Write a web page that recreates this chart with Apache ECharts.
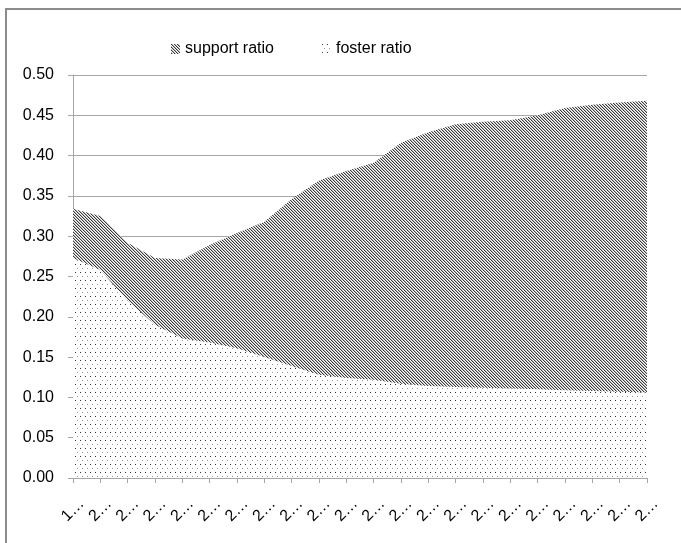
<!DOCTYPE html>
<html>
<head>
<meta charset="utf-8">
<script src="https://cdn.jsdelivr.net/npm/echarts@6/dist/echarts.min.js"></script>
<style>
html, body { margin: 0; padding: 0; background: #fff; }
#main { width: 681px; height: 543px; }
</style>
</head>
<body>
<div id="main"></div>
<script>
// x labels are shown truncated in the original chart
var xLabels = ['1…', '2…', '2…', '2…', '2…', '2…', '2…', '2…', '2…', '2…', '2…',
               '2…', '2…', '2…', '2…', '2…', '2…', '2…', '2…', '2…', '2…', '2…'];
var supportRatio = [0.334, 0.325, 0.292, 0.273, 0.271, 0.289, 0.304, 0.318, 0.346, 0.369, 0.381,
                    0.391, 0.416, 0.429, 0.439, 0.442, 0.444, 0.450, 0.459, 0.463, 0.466, 0.468];
var fosterRatio = [0.273, 0.258, 0.220, 0.190, 0.173, 0.168, 0.161, 0.150, 0.139, 0.128, 0.124,
                   0.122, 0.117, 0.114, 0.113, 0.112, 0.111, 0.110, 0.109, 0.108, 0.107, 0.106];
var seriesNames = ['support ratio', 'foster ratio'];

var FONT = 'Liberation Sans';

// diagonal hatch tile (\\\)
function hatchTile() {
    var c = document.createElement('canvas');
    c.width = 3; c.height = 3;
    var ctx = c.getContext('2d');
    var img = ctx.createImageData(3, 3);
    for (var y = 0; y < 3; y++) {
        for (var x = 0; x < 3; x++) {
            var k = ((x - y) % 3 + 3) % 3;
            var v = k === 0 ? 60 : (k === 1 ? 185 : 255);
            var p = (y * 3 + x) * 4;
            img.data[p] = img.data[p + 1] = img.data[p + 2] = v;
            img.data[p + 3] = 255;
        }
    }
    ctx.putImageData(img, 0, 0);
    return c;
}

// sparse dot tile
function dotTile() {
    var w = 10, h = 8;
    var c = document.createElement('canvas');
    c.width = w; c.height = h;
    var ctx = c.getContext('2d');
    ctx.fillStyle = '#fff';
    ctx.fillRect(0, 0, w, h);
    ctx.fillStyle = '#333';
    ctx.fillRect(0, 0, 1, 1);
    ctx.fillRect(5, 0, 1, 1);
    ctx.fillStyle = '#999';
    ctx.fillRect(2, 4, 1, 1);
    ctx.fillRect(7, 4, 1, 1);
    return c;
}

var hatch = { image: hatchTile(), repeat: 'repeat' };
var dots = { image: dotTile(), repeat: 'repeat' };

var chart = echarts.init(document.getElementById('main'));
chart.setOption({
    animation: false,
    backgroundColor: '#fff',
    textStyle: { fontFamily: FONT },
    graphic: [{
        type: 'rect',
        shape: { x: 6, y: 9, width: 800, height: 800 },
        style: { fill: 'none', stroke: '#8c8c8c', lineWidth: 2 },
        silent: true
    }],
    legend: {
        left: 166,
        top: 36,
        icon: 'rect',
        itemWidth: 9,
        itemHeight: 10,
        itemGap: 48,
        itemStyle: { borderWidth: 0 },
        textStyle: { fontSize: 16, color: '#000', fontFamily: FONT },
        data: [
            { name: seriesNames[0], itemStyle: { color: hatch } },
            { name: seriesNames[1], itemStyle: { color: dots } }
        ]
    },
    grid: { left: 73, right: 34, top: 75, bottom: 65, outerBoundsMode: 'none' },
    xAxis: {
        type: 'category',
        boundaryGap: false,
        data: xLabels,
        axisLine: { lineStyle: { color: '#a6a6a6', width: 1 } },
        axisTick: { show: true, length: 5, interval: 0, lineStyle: { color: '#a6a6a6' } },
        axisLabel: {
            interval: 0,
            rotate: 45,
            align: 'center',
            verticalAlign: 'middle',
            margin: 32,
            fontSize: 16,
            color: '#000',
            fontFamily: FONT
        },
        splitLine: { show: false }
    },
    yAxis: {
        type: 'value',
        min: 0,
        max: 0.5,
        interval: 0.05,
        axisLine: { show: true, lineStyle: { color: '#a6a6a6', width: 1 } },
        axisTick: { show: true, length: 5, lineStyle: { color: '#a6a6a6' } },
        axisLabel: {
            margin: 19,
            fontSize: 16,
            color: '#000',
            fontFamily: FONT,
            formatter: function (v) { return v.toFixed(2); }
        },
        splitLine: { lineStyle: { color: '#a6a6a6', width: 1 } }
    },
    series: [
        {
            name: seriesNames[0],
            type: 'line',
            data: supportRatio,
            symbol: 'none',
            lineStyle: { width: 0 },
            itemStyle: { color: '#777' },
            areaStyle: { color: hatch, opacity: 1 },
            z: 2
        },
        {
            name: seriesNames[1],
            type: 'line',
            data: fosterRatio,
            symbol: 'none',
            lineStyle: { width: 0 },
            itemStyle: { color: '#bbb' },
            areaStyle: { color: dots, opacity: 1 },
            z: 3
        }
    ]
});
</script>
</body>
</html>
